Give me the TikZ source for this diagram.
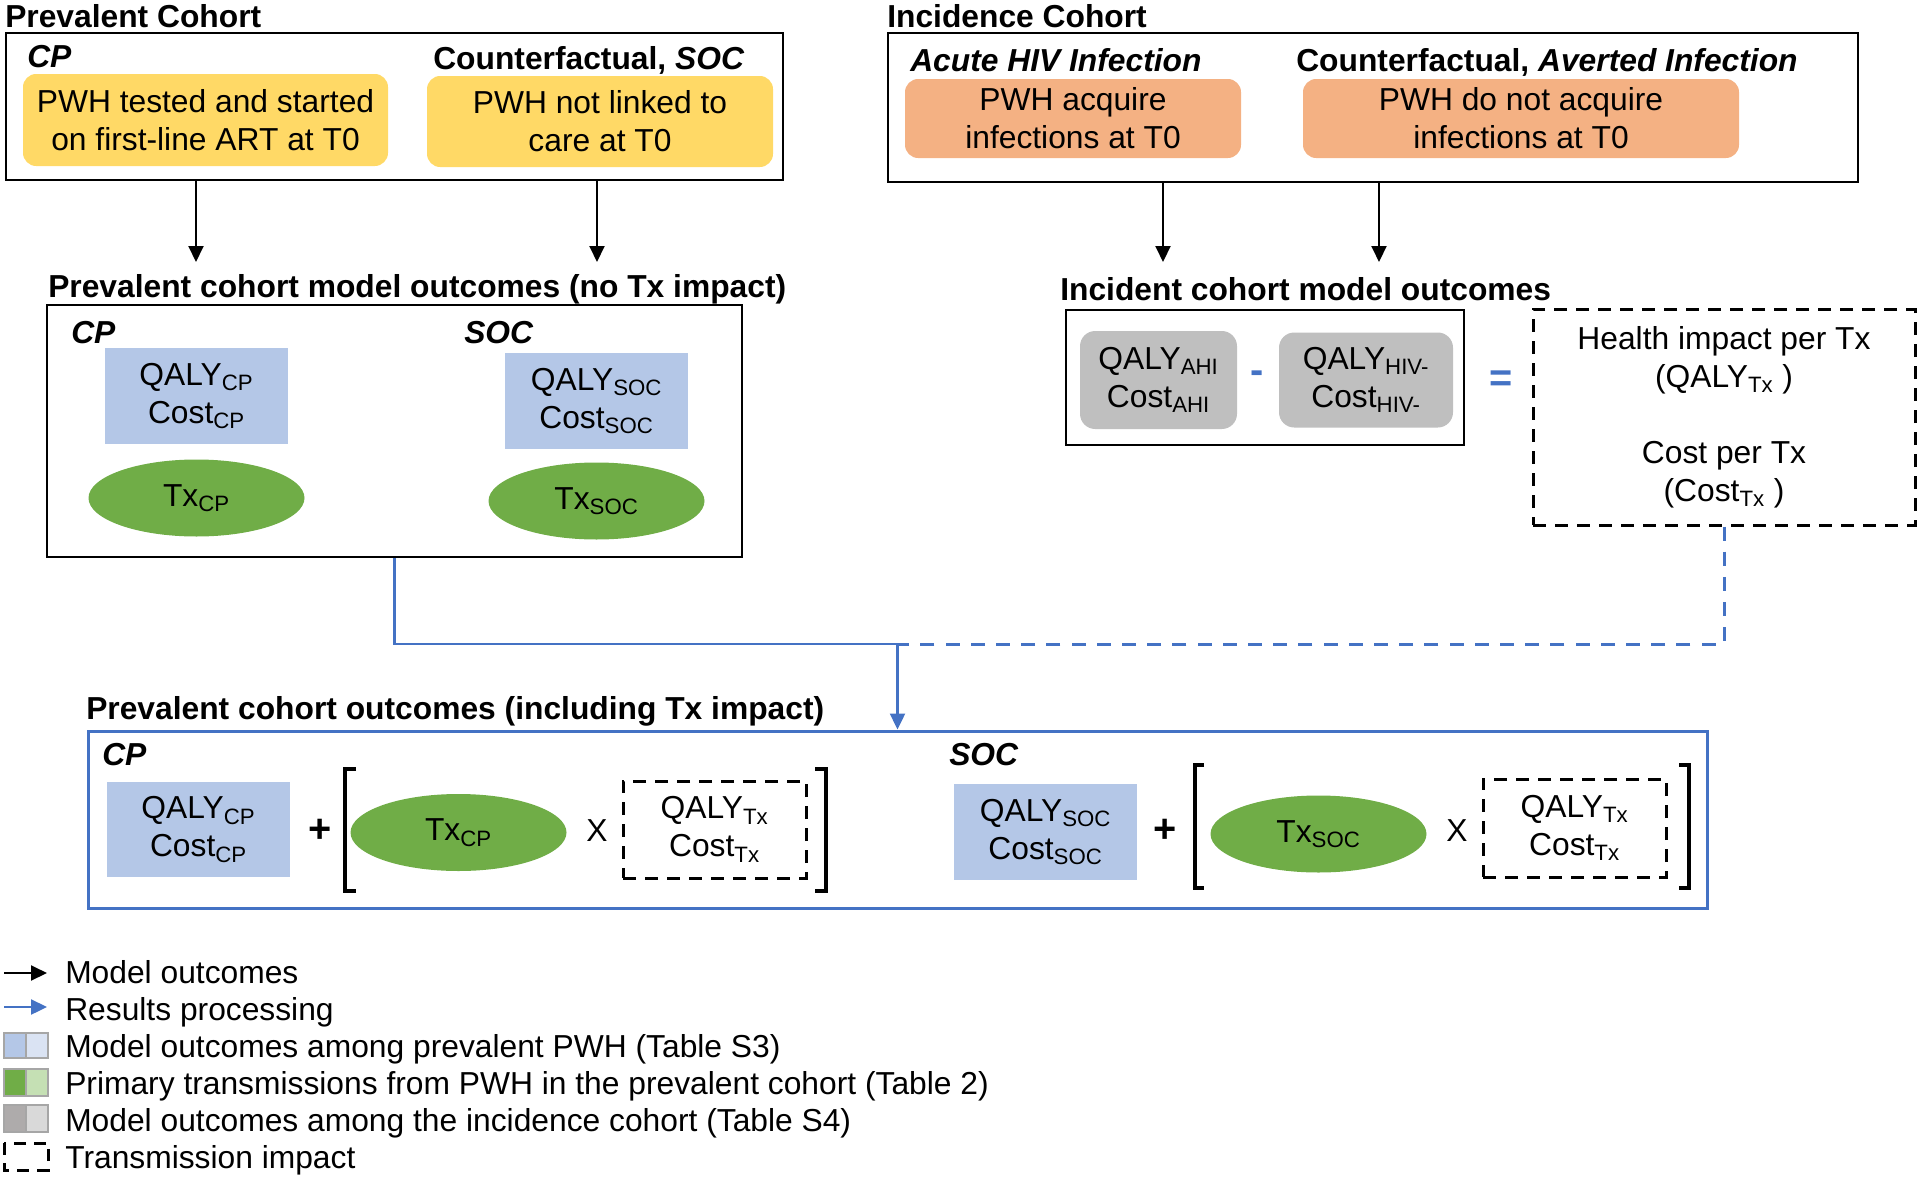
\documentclass[tikz,border=0pt]{standalone}
\usepackage{fontspec}
\setmainfont{Liberation Sans}
\usepackage{xcolor}
\usepackage{tikz}
\definecolor{startyellow}{HTML}{FFD966}
\definecolor{acuteorange}{HTML}{F4B183}
\definecolor{qalyblue}{HTML}{B4C7E7}
\definecolor{qalylight}{HTML}{DAE3F3}
\definecolor{txgreen}{HTML}{70AD47}
\definecolor{txlight}{HTML}{C5E0B4}
\definecolor{incgray}{HTML}{BFBFBF}
\definecolor{graydark}{HTML}{AEABAB}
\definecolor{graylight}{HTML}{D9D9D9}
\definecolor{keyedge}{HTML}{A6A6A6}
\definecolor{linkblue}{HTML}{4472C4}
\usetikzlibrary{shapes.geometric, positioning, arrows.meta}

\begin{document}
\begin{tikzpicture}[
	>={Triangle[length=0.4cm, width=0.375cm]},
	heading/.style={anchor=base west, inner sep=0, font=\bfseries},
	armlabel/.style={anchor=base west, inner sep=0, font=\bfseries\itshape},
	cohortbox/.style={draw, rectangle, line width=0.05cm, inner sep=0},
	startbox/.style={rectangle, rounded corners=0.33cm, align=center, inner sep=0},
	outbox/.style={rectangle, fill=qalyblue, align=center, inner sep=0, minimum width=4.575cm},
	txoval/.style={ellipse, fill=txgreen, inner sep=0, minimum width=5.4cm, minimum height=1.925cm},
	incbox/.style={rectangle, rounded corners=0.38cm, fill=incgray, align=center, inner sep=0},
	impactbox/.style={draw, rectangle, line width=0.075cm, dash pattern=on 0.33cm off 0.22cm, align=center, inner sep=0},
	flowline/.style={line width=0.05cm},
	resultline/.style={draw=linkblue, line width=0.06cm},
	opsign/.style={inner sep=0, font=\bfseries, scale=1.25},
	bracket/.style={line width=0.1cm},
	keytext/.style={anchor=base west, inner sep=0},
	keyhalf/.style={draw=keyedge, line width=0.05cm}
	]
	\fontsize{22.6}{27}\selectfont
	\useasboundingbox (0,0) rectangle (48,-29.5);
	
	% prevalent cohort
	\node[heading] (prevTitle) at (0.125,-0.675) {Prevalent Cohort};
	\node[cohortbox, minimum width=19.425cm, minimum height=3.675cm] (prevBox) at (9.8625,-2.6625) {};
	\node[armlabel] (prevCP) at (0.675,-1.675) {CP};
	\node[heading] (prevSOC) at (10.825,-1.725) {Counterfactual, \textit{SOC}};
	\node[startbox, fill=startyellow, minimum width=9.125cm, minimum height=2.3cm] (cpStart) at (5.1375,-3.0) {PWH tested and started\\on first-line ART at T0};
	\node[startbox, fill=startyellow, minimum width=8.65cm, minimum height=2.275cm, right of=cpStart, xshift=8.8625cm, yshift=-0.0375cm] (socStart) {PWH not linked to\\care at T0};
	
	% incidence cohort
	\node[heading] (incTitle) at (22.175,-0.675) {Incidence Cohort};
	\node[cohortbox, minimum width=24.25cm, minimum height=3.725cm] (incBox) at (34.325,-2.6875) {};
	\node[armlabel] (incAHI) at (22.75,-1.775) {Acute HIV Infection};
	\node[heading] (incAvert) at (32.4,-1.775) {Counterfactual, \textit{Averted Infection}};
	\node[startbox, fill=acuteorange, minimum width=8.4cm, minimum height=1.975cm] (ahiStart) at (26.825,-2.9625) {PWH acquire\\infections at T0};
	\node[startbox, fill=acuteorange, minimum width=10.9cm, minimum height=1.975cm, right of=ahiStart, xshift=10.2cm] (avertStart) {PWH do not acquire\\infections at T0};
	
	% prevalent cohort outcomes
	\node[heading] (prevOutTitle) at (1.2,-7.425) {Prevalent cohort model outcomes (no Tx impact)};
	\node[cohortbox, minimum width=17.375cm, minimum height=6.3cm] (prevOutBox) at (9.8625,-10.775) {};
	\node[armlabel] (prevOutCP) at (1.775,-8.575) {CP};
	\node[armlabel] (prevOutSOC) at (11.6,-8.575) {SOC};
	\node[outbox, minimum height=2.4cm] (cpOut) at (4.9125,-9.9) {QALY\textsubscript{CP}\\Cost\textsubscript{CP}};
	\node[outbox, minimum height=2.4cm, right of=cpOut, xshift=9cm, yshift=-0.125cm] (socOut) {QALY\textsubscript{SOC}\\Cost\textsubscript{SOC}};
	\node[txoval, below of=cpOut, yshift=-1.55cm] (cpTx) {Tx\textsubscript{CP}};
	\node[txoval, below of=socOut, yshift=-1.5cm] (socTx) {Tx\textsubscript{SOC}};
	
	% incident cohort outcomes
	\node[heading] (incOutTitle) at (26.5,-7.5) {Incident cohort model outcomes};
	\node[cohortbox, minimum width=9.95cm, minimum height=3.375cm] (incOutBox) at (31.625,-9.4375) {};
	\node[incbox, minimum width=3.925cm, minimum height=2.45cm] (ahiOut) at (28.9625,-9.5) {QALY\textsubscript{AHI}\\Cost\textsubscript{AHI}};
	\node[incbox, minimum width=4.35cm, minimum height=2.375cm, right of=ahiOut, xshift=4.1875cm] (hivOut) {QALY\textsubscript{HIV-}\\Cost\textsubscript{HIV-}};
	\node[opsign, text=linkblue] (minusSign) at (31.425,-9.425) {-};
	\node[opsign, text=linkblue] (equalSign) at (37.525,-9.525) {=};
	\node[impactbox, minimum width=9.55cm, minimum height=5.4cm] (txImpact) at (43.1,-10.425) {Health impact per Tx\\(QALY\textsubscript{Tx} )\\[0.95cm]Cost per Tx\\(Cost\textsubscript{Tx} )};
	
	% outcomes including Tx impact
	\node[heading] (inclTitle) at (2.15,-17.975) {Prevalent cohort outcomes (including Tx impact)};
	\node[cohortbox, draw=linkblue, line width=0.075cm, minimum width=40.475cm, minimum height=4.425cm] (inclBox) at (22.4375,-20.4875) {};
	\node[armlabel] (inclCP) at (2.55,-19.125) {CP};
	\node[armlabel] (inclSOC) at (23.725,-19.125) {SOC};
	\node[outbox, minimum height=2.375cm] (cpRes) at (4.9625,-20.7375) {QALY\textsubscript{CP}\\Cost\textsubscript{CP}};
	\node[txoval, right of=cpRes, xshift=5.5cm, yshift=-0.075cm] (cpResTx) {Tx\textsubscript{CP}};
	\node[impactbox, minimum width=4.575cm, minimum height=2.425cm, right of=cpResTx, xshift=5.4cm, yshift=0.075cm] (cpImpact) {QALY\textsubscript{Tx}\\Cost\textsubscript{Tx}};
	\node[opsign] (cpPlus) at (8,-20.775) {+};
	\node[inner sep=0] (cpTimes) at (14.925,-20.775) {X};
	\node[outbox, minimum height=2.4cm] (socRes) at (26.1375,-20.8) {QALY\textsubscript{SOC}\\Cost\textsubscript{SOC}};
	\node[txoval, right of=socRes, xshift=5.825cm, yshift=-0.05cm] (socResTx) {Tx\textsubscript{SOC}};
	\node[impactbox, minimum width=4.575cm, minimum height=2.45cm, right of=socResTx, xshift=5.4cm, yshift=0.15cm] (socImpact) {QALY\textsubscript{Tx}\\Cost\textsubscript{Tx}};
	\node[opsign] (socPlus) at (29.125,-20.775) {+};
	\node[inner sep=0] (socTimes) at (36.425,-20.775) {X};
	
	\draw[bracket] (8.9,-19.225) -- (8.625,-19.225) -- (8.625,-22.275) -- (8.9,-22.275);
	\draw[bracket] (20.375,-19.225) -- (20.65,-19.225) -- (20.65,-22.275) -- (20.375,-22.275);
	\draw[bracket] (30.1,-19.125) -- (29.875,-19.125) -- (29.875,-22.2) -- (30.1,-22.2);
	\draw[bracket] (41.975,-19.125) -- (42.225,-19.125) -- (42.225,-22.2) -- (41.975,-22.2);
	
	% connectors
	\coordinate (cpIn) at (4.9,-6.55);
	\coordinate (socIn) at (14.925,-6.55);
	\coordinate (ahiIn) at (29.075,-6.55);
	\coordinate (hivIn) at (34.475,-6.55);
	\coordinate (merge) at (22.4375,-16.1);
	
	\draw[->, flowline] (prevBox.south -| cpIn) -- (cpIn);
	\draw[->, flowline] (prevBox.south -| socIn) -- (socIn);
	\draw[->, flowline] (incBox.south -| ahiIn) -- (ahiIn);
	\draw[->, flowline] (incBox.south -| hivIn) -- (hivIn);
	
	\draw[resultline] (prevOutBox.south) |- (merge);
	\draw[resultline, line width=0.075cm, dash pattern=on 0.35cm off 0.28cm] (txImpact.south) |- (merge);
	\draw[->, resultline] (merge) -- (inclBox.north);
	
	% key
	\coordinate (keyFlowStart) at (0.1,-24.325);
	\coordinate (keyFlowEnd) at (1.175,-24.325);
	\coordinate (keyLinkStart) at (0.1,-25.175);
	\coordinate (keyLinkEnd) at (1.175,-25.175);
	\draw[->, flowline] (keyFlowStart) -- (keyFlowEnd);
	\draw[->, resultline] (keyLinkStart) -- (keyLinkEnd);
	\filldraw[keyhalf, fill=qalyblue] (0.1,-25.825) rectangle (0.65,-26.45);
	\filldraw[keyhalf, fill=qalylight] (0.65,-25.825) rectangle (1.2,-26.45);
	\filldraw[keyhalf, fill=txgreen] (0.1,-26.725) rectangle (0.65,-27.4);
	\filldraw[keyhalf, fill=txlight] (0.65,-26.725) rectangle (1.2,-27.4);
	\filldraw[keyhalf, fill=graydark] (0.1,-27.625) rectangle (0.65,-28.3);
	\filldraw[keyhalf, fill=graylight] (0.65,-27.625) rectangle (1.2,-28.3);
	\draw[line width=0.075cm, dash pattern=on 0.3cm off 0.2cm] (0.1,-28.575) rectangle (1.2,-29.25);
	\node[keytext] (keyFlow) at (1.625,-24.575) {Model outcomes};
	\node[keytext] (keyLink) at (1.625,-25.5) {Results processing};
	\node[keytext] (keyQaly) at (1.625,-26.425) {Model outcomes among prevalent PWH (Table S3)};
	\node[keytext] (keyTx) at (1.625,-27.35) {Primary transmissions from PWH in the prevalent cohort (Table 2)};
	\node[keytext] (keyInc) at (1.625,-28.275) {Model outcomes among the incidence cohort (Table S4)};
	\node[keytext] (keyImpact) at (1.625,-29.2) {Transmission impact};
\end{tikzpicture}
\end{document}
